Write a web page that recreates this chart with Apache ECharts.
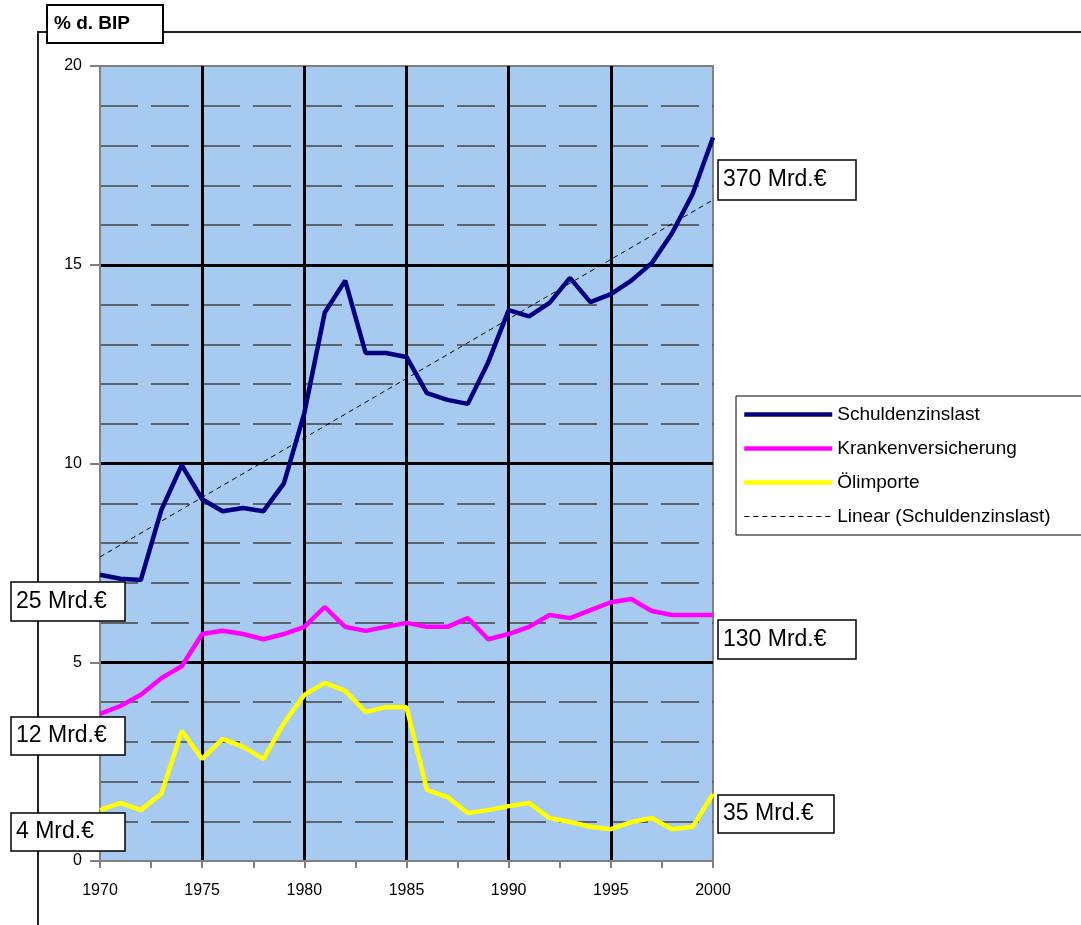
<!DOCTYPE html>
<html>
<head>
<meta charset="utf-8">
<script src="https://cdn.jsdelivr.net/npm/echarts@6/dist/echarts.min.js"></script>
<style>
  html, body { margin: 0; padding: 0; background: #fff; }
  #chart { width: 1081px; height: 925px; }
</style>
</head>
<body>
<div id="chart"></div>
<script>
// Jahre 1970 - 2000
const years = [1970, 1971, 1972, 1973, 1974, 1975, 1976, 1977, 1978, 1979,
  1980, 1981, 1982, 1983, 1984, 1985, 1986, 1987, 1988, 1989,
  1990, 1991, 1992, 1993, 1994, 1995, 1996, 1997, 1998, 1999, 2000];

// % d. BIP
const schuldenzinslast = [7.2, 7.1, 7.07, 8.83, 9.96, 9.1, 8.8, 8.88, 8.8, 9.5,
  11.27, 13.8, 14.6, 12.78, 12.78, 12.68, 11.77, 11.6, 11.5, 12.55,
  13.86, 13.7, 14.04, 14.67, 14.06, 14.26, 14.6, 15.04, 15.8, 16.78, 18.2];
const krankenversicherung = [3.7, 3.9, 4.18, 4.6, 4.9, 5.71, 5.79, 5.71, 5.58, 5.71,
  5.89, 6.39, 5.89, 5.79, 5.89, 5.99, 5.89, 5.89, 6.11, 5.58,
  5.71, 5.89, 6.19, 6.11, 6.31, 6.51, 6.59, 6.29, 6.19, 6.19, 6.19];
const oelimporte = [1.28, 1.46, 1.28, 1.69, 3.27, 2.57, 3.07, 2.87, 2.57, 3.47,
  4.18, 4.48, 4.28, 3.75, 3.87, 3.87, 1.79, 1.61, 1.21, 1.28,
  1.38, 1.46, 1.08, 0.98, 0.86, 0.8, 0.98, 1.08, 0.8, 0.86, 1.69];

// Trendlinie (Endpunkte)
const trendYears = [1970, 2000];
const trendValues = [7.65, 16.63];

const seriesNames = ['Schuldenzinslast', 'Krankenversicherung', 'Ölimporte', 'Linear (Schuldenzinslast)'];
const yTicks = [0, 5, 10, 15, 20];
const xTicks = [1970, 1975, 1980, 1985, 1990, 1995, 2000];

const FONT = '"Liberation Sans", Arial, sans-serif';

const pairs = (xs, ys) => xs.map((x, i) => [x, ys[i]]);

// Beschriftungsboxen
function box(x, y, w, h, text, opts = {}) {
  return {
    type: 'group',
    children: [
      {
        type: 'rect',
        z: 100,
        shape: { x: x, y: y, width: w, height: h },
        style: { fill: '#fff', stroke: '#000', lineWidth: opts.lw || 1.5 }
      },
      {
        type: 'text',
        z: 101,
        x: x + (opts.pad || 5),
        y: y + h / 2,
        style: {
          text: text,
          fill: '#000',
          font: (opts.bold ? 'bold ' : '') + (opts.size || 23) + 'px ' + FONT,
          verticalAlign: 'middle'
        }
      }
    ]
  };
}

const chart = echarts.init(document.getElementById('chart'));

const option = {
  backgroundColor: '#fff',
  animation: false,
  grid: {
    left: 100,
    top: 66,
    right: 368,
    bottom: 64,
    show: true,
    backgroundColor: '#a6caf0',
    borderColor: '#808080',
    borderWidth: 2
  },
  legend: {
    orient: 'vertical',
    left: 736,
    top: 396,
    padding: [9, 60, 9, 6],
    itemWidth: 88,
    itemHeight: 14,
    itemGap: 15,
    borderColor: '#000',
    borderWidth: 1,
    backgroundColor: '#fff',
    itemStyle: { opacity: 0 },
    lineStyle: { width: 4.5 },
    textStyle: { fontSize: 19, color: '#000', fontFamily: FONT },
    data: [
      seriesNames[0],
      seriesNames[1],
      seriesNames[2],
      { name: seriesNames[3], lineStyle: { width: 1 } }
    ]
  },
  xAxis: {
    type: 'value',
    min: 1970,
    max: 2000,
    interval: 5,
    axisLine: { lineStyle: { color: '#808080', width: 2 } },
    axisTick: { length: 7, lineStyle: { color: '#808080', width: 2 } },
    minorTick: { show: true, splitNumber: 2, length: 7, lineStyle: { color: '#808080', width: 2 } },
    axisLabel: {
      margin: 22,
      color: '#000',
      fontSize: 16,
      fontFamily: FONT,
      formatter: v => (xTicks.includes(v) ? String(v) : '')
    },
    splitLine: {
      show: true,
      showMinLine: false,
      showMaxLine: false,
      lineStyle: { color: '#000', width: 3 }
    }
  },
  yAxis: {
    type: 'value',
    min: 0,
    max: 20,
    interval: 5,
    axisLine: { show: true, lineStyle: { color: '#808080', width: 2 } },
    axisTick: { show: true, length: 10, lineStyle: { color: '#808080', width: 2 } },
    minorTick: { show: false, splitNumber: 5 },
    minorSplitLine: {
      show: true,
      lineStyle: { color: '#444', width: 1.5, type: [38, 13] }
    },
    axisLabel: {
      margin: 18,
      color: '#000',
      fontSize: 16,
      fontFamily: FONT,
      formatter: v => (yTicks.includes(v) ? String(v) : '')
    },
    splitLine: {
      show: true,
      showMinLine: false,
      showMaxLine: false,
      lineStyle: { color: '#000', width: 3 }
    }
  },
  series: [
    {
      name: seriesNames[0],
      type: 'line',
      symbol: 'none',
      data: pairs(years, schuldenzinslast),
      lineStyle: { color: '#000080', width: 4.5 },
      itemStyle: { color: '#000080' },
      z: 5
    },
    {
      name: seriesNames[1],
      type: 'line',
      symbol: 'none',
      data: pairs(years, krankenversicherung),
      lineStyle: { color: '#ff00ff', width: 4.5 },
      itemStyle: { color: '#ff00ff' },
      z: 5
    },
    {
      name: seriesNames[2],
      type: 'line',
      symbol: 'none',
      data: pairs(years, oelimporte),
      lineStyle: { color: '#ffff00', width: 4.5 },
      itemStyle: { color: '#ffff00' },
      z: 5
    },
    {
      name: seriesNames[3],
      type: 'line',
      symbol: 'none',
      data: pairs(trendYears, trendValues),
      lineStyle: { color: '#000', width: 1, type: [5, 4] },
      itemStyle: { color: '#000' },
      z: 4
    }
  ],
  graphic: [
    // Rahmenlinien
    {
      type: 'polyline',
      z: 50,
      shape: { points: [[38, 925], [38, 32], [1081, 32]] },
      style: { stroke: '#222', lineWidth: 2, fill: null }
    },
    box(47, 5, 116, 38, '% d. BIP', { bold: true, size: 19, lw: 2, pad: 7 }),
    box(718, 160, 138, 40, '370 Mrd.€'),
    box(718, 620, 138, 39, '130 Mrd.€'),
    box(718, 795, 116, 38, '35 Mrd.€'),
    box(11, 582, 114, 39, '25 Mrd.€'),
    box(11, 717, 114, 38, '12 Mrd.€'),
    box(11, 813, 114, 38, '4 Mrd.€')
  ]
};

chart.setOption(option);
</script>
</body>
</html>
